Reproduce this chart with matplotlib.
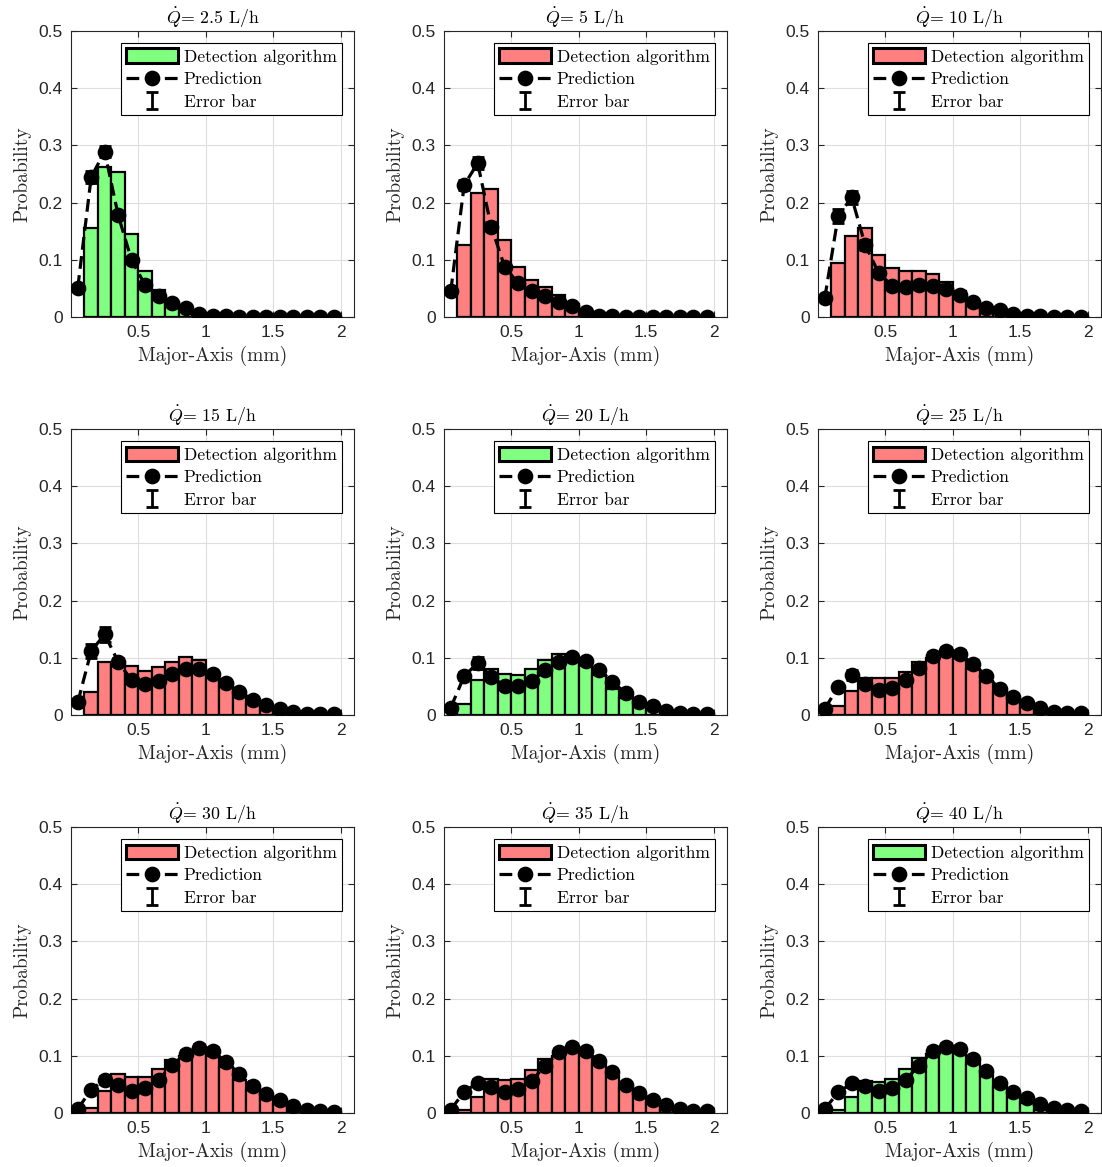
import matplotlib
matplotlib.use('Agg')
import matplotlib.pyplot as plt
from matplotlib.patches import Patch
from matplotlib.lines import Line2D

plt.rcParams['mathtext.fontset'] = 'cm'

# ---------------- data ----------------
flow_rates = ['2.5', '5', '10', '15', '20', '25', '30', '35', '40']
bar_kinds = ['green', 'red', 'red', 'red', 'green', 'red', 'red', 'red', 'green']

bin_centers = [0.15, 0.25, 0.35, 0.45, 0.55, 0.65, 0.75, 0.85, 0.95, 1.05,
               1.15, 1.25, 1.35, 1.45, 1.55, 1.65, 1.75, 1.85, 1.95]
pred_x = [0.05, 0.15, 0.25, 0.35, 0.45, 0.55, 0.65, 0.75, 0.85, 0.95,
          1.05, 1.15, 1.25, 1.35, 1.45, 1.55, 1.65, 1.75, 1.85, 1.95]

det_2p5 = [0.155, 0.263, 0.253, 0.145, 0.080, 0.047, 0.027, 0.016, 0.005, 0.001,
           0, 0, 0, 0, 0, 0, 0, 0, 0]
pred_2p5 = [0.051, 0.245, 0.289, 0.178, 0.099, 0.056, 0.036, 0.024, 0.016, 0.006,
            0.001, 0.001, 0, 0, 0, 0, 0, 0, 0, 0]
err_2p5 = [0.003, 0.011, 0.010, 0.007, 0.005, 0.003, 0.003, 0.002, 0.002, 0.001,
           0, 0, 0, 0, 0, 0, 0, 0, 0, 0]

det_5 = [0.126, 0.217, 0.223, 0.135, 0.087, 0.065, 0.052, 0.039, 0.023, 0.008,
         0.002, 0, 0, 0, 0, 0, 0, 0, 0]
pred_5 = [0.045, 0.231, 0.269, 0.158, 0.088, 0.059, 0.045, 0.037, 0.027, 0.020,
          0.008, 0.002, 0.001, 0, 0, 0, 0, 0, 0, 0]
err_5 = [0.003, 0.009, 0.010, 0.008, 0.005, 0.004, 0.003, 0.003, 0.002, 0.002,
         0.001, 0, 0, 0, 0, 0, 0, 0, 0, 0]

det_10 = [0.095, 0.142, 0.156, 0.109, 0.085, 0.081, 0.080, 0.076, 0.062, 0.045,
          0.027, 0.018, 0.010, 0.004, 0.001, 0, 0, 0, 0]
pred_10 = [0.033, 0.177, 0.209, 0.126, 0.077, 0.055, 0.053, 0.056, 0.055, 0.049,
           0.038, 0.026, 0.016, 0.012, 0.006, 0.002, 0.001, 0, 0, 0]
err_10 = [0.004, 0.012, 0.012, 0.008, 0.005, 0.004, 0.004, 0.004, 0.004, 0.003,
          0.003, 0.002, 0.002, 0.001, 0.001, 0, 0, 0, 0, 0]

det_15 = [0.041, 0.093, 0.088, 0.086, 0.077, 0.084, 0.093, 0.101, 0.097, 0.072,
          0.055, 0.035, 0.020, 0.010, 0.003, 0, 0, 0, 0]
pred_15 = [0.022, 0.112, 0.141, 0.093, 0.061, 0.054, 0.059, 0.072, 0.080, 0.081,
           0.071, 0.056, 0.040, 0.027, 0.017, 0.010, 0.005, 0.002, 0.001, 0.001]
err_15 = [0.004, 0.013, 0.013, 0.007, 0.005, 0.004, 0.004, 0.005, 0.005, 0.005,
          0.004, 0.004, 0.003, 0.002, 0.002, 0.001, 0.001, 0, 0, 0]

det_20 = [0.020, 0.061, 0.081, 0.072, 0.070, 0.081, 0.097, 0.106, 0.100, 0.090,
          0.070, 0.046, 0.030, 0.018, 0.008, 0.002, 0, 0, 0]
pred_20 = [0.013, 0.068, 0.091, 0.067, 0.051, 0.051, 0.059, 0.078, 0.093, 0.101,
           0.094, 0.079, 0.058, 0.038, 0.023, 0.015, 0.007, 0.004, 0.002, 0.001]
err_20 = [0.003, 0.007, 0.010, 0.006, 0.005, 0.004, 0.004, 0.005, 0.006, 0.006,
          0.006, 0.005, 0.004, 0.003, 0.002, 0.002, 0.001, 0.001, 0, 0]

det_25 = [0.016, 0.042, 0.065, 0.064, 0.064, 0.075, 0.093, 0.100, 0.110, 0.100,
          0.080, 0.060, 0.040, 0.028, 0.017, 0.006, 0.002, 0, 0]
pred_25 = [0.011, 0.049, 0.070, 0.055, 0.044, 0.048, 0.061, 0.082, 0.103, 0.112,
           0.106, 0.090, 0.068, 0.046, 0.032, 0.021, 0.013, 0.006, 0.004, 0.003]
err_25 = [0.003, 0.006, 0.008, 0.006, 0.004, 0.004, 0.005, 0.006, 0.007, 0.007,
          0.007, 0.006, 0.005, 0.004, 0.003, 0.002, 0.002, 0.001, 0.001, 0]

det_30 = [0.008, 0.039, 0.068, 0.063, 0.063, 0.077, 0.093, 0.100, 0.110, 0.100,
          0.080, 0.058, 0.040, 0.026, 0.015, 0.006, 0.002, 0, 0]
pred_30 = [0.007, 0.041, 0.058, 0.049, 0.039, 0.044, 0.058, 0.084, 0.103, 0.113,
           0.108, 0.090, 0.069, 0.048, 0.033, 0.022, 0.012, 0.006, 0.003, 0.002]
err_30 = [0.002, 0.005, 0.007, 0.005, 0.004, 0.004, 0.005, 0.006, 0.007, 0.007,
          0.007, 0.006, 0.005, 0.004, 0.003, 0.002, 0.002, 0.001, 0.001, 0]

det_35 = [0.006, 0.028, 0.059, 0.058, 0.059, 0.076, 0.095, 0.100, 0.110, 0.105,
          0.085, 0.065, 0.045, 0.030, 0.017, 0.007, 0.002, 0, 0]
pred_35 = [0.006, 0.037, 0.053, 0.046, 0.037, 0.042, 0.056, 0.083, 0.106, 0.115,
           0.109, 0.091, 0.072, 0.049, 0.035, 0.023, 0.014, 0.007, 0.004, 0.003]
err_35 = [0.002, 0.005, 0.006, 0.005, 0.004, 0.004, 0.005, 0.006, 0.007, 0.007,
          0.007, 0.006, 0.005, 0.004, 0.003, 0.002, 0.002, 0.001, 0.001, 0]

det_40 = [0.005, 0.028, 0.056, 0.055, 0.060, 0.077, 0.097, 0.103, 0.110, 0.105,
          0.088, 0.068, 0.046, 0.030, 0.017, 0.006, 0.002, 0, 0]
pred_40 = [0.007, 0.036, 0.052, 0.047, 0.038, 0.043, 0.058, 0.083, 0.108, 0.116,
           0.112, 0.094, 0.074, 0.052, 0.036, 0.026, 0.016, 0.008, 0.006, 0.003]
err_40 = [0.002, 0.005, 0.006, 0.005, 0.004, 0.004, 0.005, 0.006, 0.007, 0.007,
          0.007, 0.006, 0.005, 0.004, 0.003, 0.002, 0.002, 0.001, 0.001, 0]

detections = [det_2p5, det_5, det_10, det_15, det_20, det_25, det_30, det_35, det_40]
predictions = [pred_2p5, pred_5, pred_10, pred_15, pred_20, pred_25, pred_30, pred_35, pred_40]
errors = [err_2p5, err_5, err_10, err_15, err_20, err_25, err_30, err_35, err_40]

x_ticks = [0.5, 1, 1.5, 2]
x_tick_labels = ['0.5', '1', '1.5', '2']
y_ticks = [0, 0.1, 0.2, 0.3, 0.4, 0.5]
y_tick_labels = ['0', '0.1', '0.2', '0.3', '0.4', '0.5']

# ---------------- style ----------------
colors = {'green': '#80FF80', 'red': '#FF8080'}
W, H = 1102, 1167
fig = plt.figure(figsize=(W / 100, H / 100), dpi=100)

col_left = [71, 444, 818]
row_top = [31, 429, 827]
ax_w, ax_h = 283, 286

serif = 'cmr10'
dark = (0.15, 0.15, 0.15)

for i in range(9):
    r, c = divmod(i, 3)
    ax = fig.add_axes([col_left[c] / W, 1 - (row_top[r] + ax_h) / H, ax_w / W, ax_h / H])
    ax.set_axisbelow(True)
    ax.bar(bin_centers, detections[i], width=0.1, color=colors[bar_kinds[i]],
           edgecolor='black', linewidth=1.6, zorder=2)
    ax.plot(pred_x, predictions[i], linestyle='--', color='black', linewidth=2.3,
            marker='o', markersize=10.3, zorder=3, dashes=(4, 2))
    eb = ax.errorbar(pred_x, predictions[i], yerr=errors[i], fmt='none', ecolor='black',
                     elinewidth=2.0, capsize=4.5, capthick=2.0, zorder=4)

    ax.set_xlim(0, 2.1)
    ax.set_ylim(0, 0.5)
    ax.set_xticks(x_ticks)
    ax.set_xticklabels(x_tick_labels)
    ax.set_yticks(y_ticks)
    ax.set_yticklabels(y_tick_labels)
    ax.tick_params(direction='in', top=True, right=True, length=4, width=0.8,
                   colors=dark, labelsize=12.5, pad=6)
    for lab in ax.get_xticklabels() + ax.get_yticklabels():
        lab.set_fontfamily('Liberation Sans')
    for sp in ax.spines.values():
        sp.set_color(dark)
        sp.set_linewidth(0.8)
    ax.grid(True, color=(0.87, 0.87, 0.87), linewidth=0.8)

    ax.set_xlabel('Major-Axis (mm)', fontfamily=serif, fontsize=14, color=dark, labelpad=4)
    ax.set_ylabel('Probability', fontfamily=serif, fontsize=14, color=dark, labelpad=5)
    ax.set_title(r'$\dot{Q}$= ' + flow_rates[i] + ' L/h', fontfamily=serif,
                 fontsize=12.8, pad=5)

    h_bar = Patch(facecolor=colors[bar_kinds[i]], edgecolor='black', linewidth=2.2)
    h_pred = Line2D([], [], color='black', linestyle='--', linewidth=2.3, marker='o',
                    markersize=10.3, dashes=(4, 2))
    leg = ax.legend([h_bar, h_pred, eb], ['Detection algorithm', 'Prediction', 'Error bar'],
                    loc='upper right', prop={'family': serif, 'size': 12.6},
                    fancybox=False, framealpha=1, edgecolor='black',
                    handlelength=3.0, handleheight=0.9, handletextpad=0.3,
                    labelspacing=0.36, borderpad=0.3, borderaxespad=0.7)
    leg.get_frame().set_linewidth(0.8)

fig.savefig('out.png', dpi=100)
